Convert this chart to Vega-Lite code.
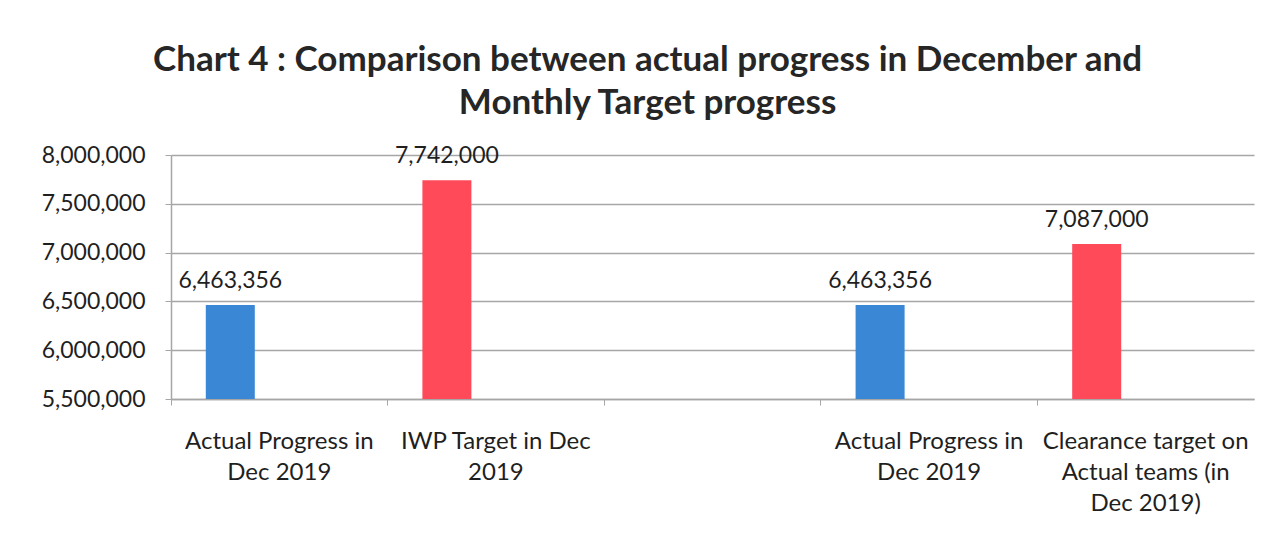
{
  "$schema": "https://vega.github.io/schema/vega-lite/v6.json",
  "autosize": {"type": "none"},
  "width": 1083,
  "height": 244,
  "padding": {"left": 171, "top": 155, "right": 33, "bottom": 154},
  "background": "white",
  "title": {
    "text": ["Chart 4 : Comparison between actual progress in December and", "Monthly Target progress"],
    "font": "Lato",
    "fontSize": 35,
    "fontWeight": "bold",
    "color": "#262626",
    "anchor": "middle",
    "frame": "bounds",
    "lineHeight": 43,
    "offset": 23
  },
  "data": {
    "values": [
      {"cat": "A", "series": "s1", "kind": "Actual", "value": 6463356},
      {"cat": "B", "series": "s1", "kind": "Target", "value": 7742000},
      {"cat": "D", "series": "s1", "kind": "Actual", "value": 6463356},
      {"cat": "E", "series": "s1", "kind": "Target", "value": 7087000}
    ]
  },
  "encoding": {
    "x": {
      "field": "cat",
      "type": "nominal",
      "scale": {"domain": ["A", "B", "C", "D", "E"], "paddingInner": 0, "paddingOuter": 0},
      "axis": {
        "title": null,
        "labelAngle": 0,
        "labelFont": "Lato",
        "labelFontSize": 24,
        "labelLimit": 400,
        "labelColor": "#1f1f1f",
        "labelPadding": 24,
        "labelBaseline": "top",
        "labelLineHeight": 31,
        "labelExpr": "{'A': ['Actual Progress in', 'Dec 2019'], 'B': ['IWP Target in Dec', '2019'], 'C': '', 'D': ['Actual Progress in', 'Dec 2019'], 'E': ['Clearance target on', 'Actual teams (in', 'Dec 2019)']}[datum.value]",
        "bandPosition": 0,
        "domainColor": "#a6a6a6",
        "domainWidth": 1.5,
        "tickColor": "#a6a6a6",
        "tickSize": 6,
        "grid": false
      }
    },
    "xOffset": {
      "field": "series",
      "type": "nominal",
      "scale": {"domain": ["s1", "s2", "s3"], "paddingInner": 0, "paddingOuter": 0.71}
    },
    "y": {
      "field": "value",
      "type": "quantitative",
      "scale": {"domain": [5500000, 8000000], "zero": false, "nice": false},
      "axis": {
        "title": null,
        "values": [5500000, 6000000, 6500000, 7000000, 7500000, 8000000],
        "format": ",d",
        "labelFont": "Lato",
        "labelFontSize": 23,
        "labelColor": "#1f1f1f",
        "labelPadding": 20,
        "domainColor": "#a6a6a6",
        "domainWidth": 1.5,
        "tickColor": "#a6a6a6",
        "tickSize": 6,
        "gridColor": "#a6a6a6",
        "gridWidth": 1.5
      }
    }
  },
  "layer": [
    {
      "mark": {"type": "bar"},
      "encoding": {
        "y2": {"datum": 5500000},
        "color": {
          "field": "kind",
          "type": "nominal",
          "scale": {"domain": ["Actual", "Target"], "range": ["#3a87d6", "#ff4a5a"]},
          "legend": null
        }
      }
    },
    {
      "mark": {"type": "text", "baseline": "bottom", "dy": -12, "font": "Lato", "fontSize": 23, "color": "#1f1f1f"},
      "encoding": {
        "text": {"field": "value", "type": "quantitative", "format": ",d"}
      }
    }
  ],
  "config": {
    "view": {"stroke": null}
  }
}
